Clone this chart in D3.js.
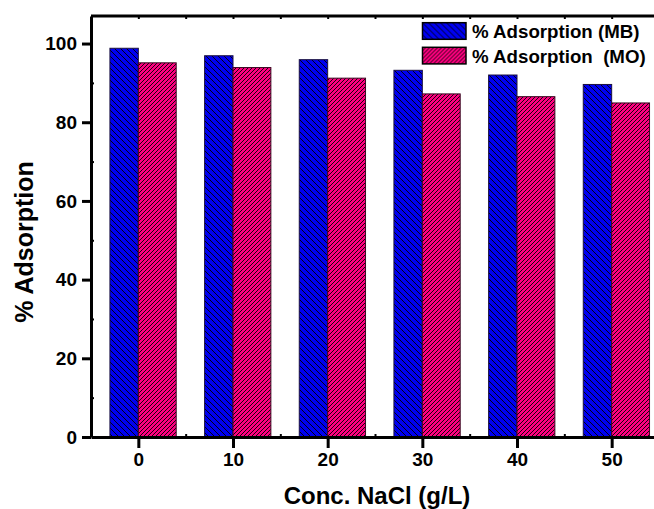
<!DOCTYPE html>
<html>
<head>
<meta charset="utf-8">
<script src="https://cdn.jsdelivr.net/npm/d3@7"></script>
<style>
  body { margin: 0; background: #fff; }
  text { font-family: "Liberation Sans", Arial, sans-serif; font-weight: bold; }
</style>
</head>
<body>
<script>
var concentrations = [0, 10, 20, 30, 40, 50];
var mbValues = [98.8, 96.9, 95.9, 93.2, 92.0, 89.6];
var moValues = [95.1, 93.9, 91.2, 87.2, 86.5, 84.9];
var yTicks = [0, 20, 40, 60, 80, 100];
var seriesNames = ["% Adsorption (MB)", "% Adsorption  (MO)"];

var width = 654;
var height = 509;
var plot = {left: 91, right: 659, top: 16, bottom: 437};

var svg = d3.select("body")
    .append("svg")
    .attr("width", width)
    .attr("height", height);

// hatch patterns, drawn straight into the tile (no rotation, avoids moire)
var defs = svg.append("defs");
function hatch(id, color, s, backslash) {
    var p = defs.append("pattern")
        .attr("id", id)
        .attr("patternUnits", "userSpaceOnUse")
        .attr("width", s)
        .attr("height", s);
    p.append("rect").attr("width", s).attr("height", s).attr("fill", color);
    var path = backslash
        ? "M0,0L" + s + "," + s + "M-1," + (s - 1) + "L1," + (s + 1) + "M" + (s - 1) + ",-1L" + (s + 1) + ",1"
        : "M0," + s + "L" + s + ",0M-1,1L1,-1M" + (s - 1) + "," + (s + 1) + "L" + (s + 1) + "," + (s - 1);
    p.append("path")
        .attr("d", path)
        .attr("stroke", "#000")
        .attr("stroke-width", 0.9);
}
hatch("hatchMB", "#0000f0", 6, true);
hatch("hatchMO", "#ff0080", 4, false);

var x = d3.scaleLinear()
    .domain([-5, 55])
    .range([plot.left, plot.right]);

var y = d3.scaleLinear()
    .domain([0, 107])
    .range([plot.bottom, plot.top]);

// bars
var g = svg.append("g");
g.selectAll("rect.mb")
    .data(concentrations)
    .enter()
    .append("rect")
    .attr("class", "mb")
    .attr("x", (d) => x(d - 3))
    .attr("y", (d, i) => y(mbValues[i]))
    .attr("width", (d) => x(d) - x(d - 3))
    .attr("height", (d, i) => y(0) - y(mbValues[i]))
    .attr("fill", "url(#hatchMB)")
    .attr("stroke", "#1a1040")
    .attr("stroke-width", 1);

g.selectAll("rect.mo")
    .data(concentrations)
    .enter()
    .append("rect")
    .attr("class", "mo")
    .attr("x", (d) => x(d))
    .attr("y", (d, i) => y(moValues[i]))
    .attr("width", (d) => x(d + 4) - x(d))
    .attr("height", (d, i) => y(0) - y(moValues[i]))
    .attr("fill", "url(#hatchMO)")
    .attr("stroke", "#3a0820")
    .attr("stroke-width", 1);

// frame top / right
svg.append("line")
    .attr("x1", plot.left).attr("x2", plot.right)
    .attr("y1", plot.top).attr("y2", plot.top)
    .attr("stroke", "#000").attr("stroke-width", 3);
svg.append("line")
    .attr("x1", plot.right).attr("x2", plot.right)
    .attr("y1", plot.top).attr("y2", plot.bottom)
    .attr("stroke", "#000").attr("stroke-width", 3);

// top minor ticks
var topAxis = d3.axisTop(x)
    .tickValues(d3.range(0, 55, 5))
    .tickSizeInner(-3)
    .tickSizeOuter(0)
    .tickFormat("");
svg.append("g")
    .attr("transform", "translate(0," + plot.top + ")")
    .call(topAxis)
    .call((a) => a.select(".domain").remove())
    .selectAll("line").attr("stroke-width", 2);

// left axis
var leftMinor = d3.axisLeft(y)
    .tickValues([10, 30, 50, 70, 90])
    .tickSizeInner(-3)
    .tickSizeOuter(0)
    .tickFormat("");
svg.append("g")
    .attr("transform", "translate(" + plot.left + ",0)")
    .call(leftMinor)
    .call((a) => a.select(".domain").remove())
    .selectAll("line").attr("stroke-width", 2);

var leftAxis = d3.axisLeft(y)
    .tickValues(yTicks)
    .tickSize(9)
    .tickSizeOuter(0)
    .tickPadding(5);
var la = svg.append("g")
    .attr("transform", "translate(" + plot.left + ",0)")
    .call(leftAxis);
la.select(".domain").attr("stroke-width", 3);
la.selectAll(".tick line").attr("stroke-width", 3);
la.selectAll("text")
    .attr("font-size", "19px")
    .attr("font-family", "Liberation Sans, Arial, sans-serif")
    .attr("font-weight", "bold")
    .attr("fill", "#000");

// bottom axis
var bottomMinor = d3.axisBottom(x)
    .tickValues([5, 15, 25, 35, 45])
    .tickSizeInner(-3)
    .tickSizeOuter(0)
    .tickFormat("");
svg.append("g")
    .attr("transform", "translate(0," + plot.bottom + ")")
    .call(bottomMinor)
    .call((a) => a.select(".domain").remove())
    .selectAll("line").attr("stroke-width", 2);

var bottomAxis = d3.axisBottom(x)
    .tickValues(concentrations)
    .tickSize(11)
    .tickSizeOuter(0)
    .tickPadding(5);
var ba = svg.append("g")
    .attr("transform", "translate(0," + plot.bottom + ")")
    .call(bottomAxis);
ba.select(".domain").attr("stroke-width", 3);
ba.selectAll(".tick line").attr("stroke-width", 3);
ba.selectAll("text")
    .attr("font-size", "19px")
    .attr("font-family", "Liberation Sans, Arial, sans-serif")
    .attr("font-weight", "bold")
    .attr("fill", "#000");

// axis titles
svg.append("text")
    .attr("x", 377)
    .attr("y", 504)
    .attr("font-size", "24px")
    .attr("text-anchor", "middle")
    .style("fill", "black")
    .text("Conc. NaCl (g/L)");

svg.append("text")
    .attr("transform", "translate(33,242) rotate(-90)")
    .attr("font-size", "25px")
    .attr("text-anchor", "middle")
    .style("fill", "black")
    .text("% Adsorption");

// legend
var legend = svg.append("g").attr("transform", "translate(422.5,22.7)");
var fills = ["url(#hatchMB)", "url(#hatchMO)"];
seriesNames.forEach((name, i) => {
    legend.append("rect")
        .attr("x", 0)
        .attr("y", i * 24.6)
        .attr("width", 43.5)
        .attr("height", 16.6)
        .attr("fill", fills[i])
        .attr("stroke", "#000")
        .attr("stroke-width", 1.5);
    legend.append("text")
        .attr("x", 49.5)
        .attr("y", i * 24.6 + 15.6)
        .attr("font-size", "18.7px")
        .attr("xml:space", "preserve")
        .style("white-space", "pre")
        .style("fill", "black")
        .text(name);
});
</script>
</body>
</html>
